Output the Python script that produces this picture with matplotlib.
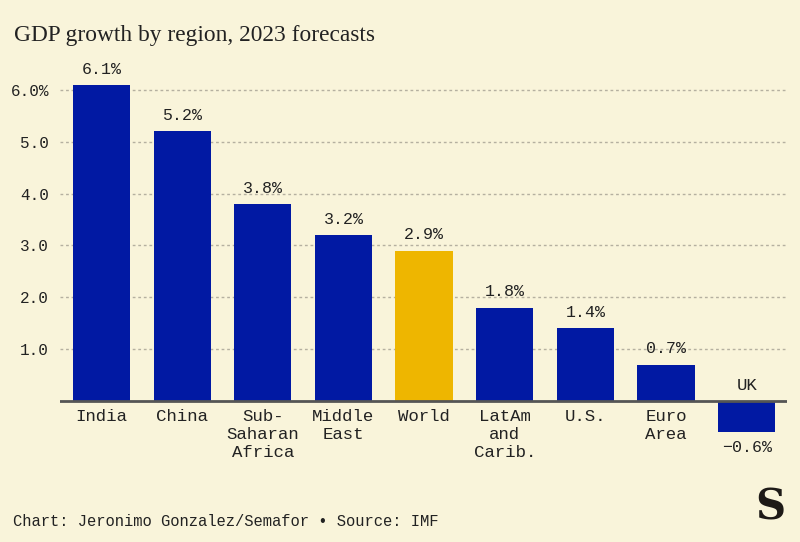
import matplotlib.pyplot as plt
import numpy as np

# data
regions = ['India', 'China', 'Sub-\nSaharan\nAfrica', 'Middle\nEast', 'World',
           'LatAm\nand\nCarib.', 'U.S.', 'Euro\nArea', 'UK']
growth = [6.1, 5.2, 3.8, 3.2, 2.9, 1.8, 1.4, 0.7, -0.6]
yticks = [1, 2, 3, 4, 5, 6]
ytick_labels = ['1.0', '2.0', '3.0', '4.0', '5.0', '6.0%']

bg = '#f9f4da'
blue = '#0119a3'
yellow = '#eeb600'
mono = 'Liberation Mono'

fig = plt.figure(figsize=(8, 5.42), dpi=100, facecolor=bg)
ax = fig.add_axes([0.075, 0.1646, 0.90875, 0.7171])
ax.set_facecolor(bg)

x = np.arange(len(regions))
colors = [yellow if r == 'World' else blue for r in regions]
ax.bar(x, growth, width=0.71, color=colors, zorder=3)

ax.set_xlim(-0.515, 8.5)
ax.set_ylim(-1, 6.5)

# dotted gridlines and the zero line
for t in yticks:
    ax.axhline(t, color='#b5b0a0', lw=1, ls=(0, (2, 2)), zorder=1)
ax.axhline(0, color='#555555', lw=2, zorder=4)

ax.set_yticks(yticks)
ax.set_yticklabels(ytick_labels, fontfamily=mono, fontsize=11.5, color='#222222')
ax.tick_params(axis='y', length=0, pad=8)
ax.set_xticks([])
for s in ax.spines.values():
    s.set_visible(False)

# value labels and category labels
for xi, v, name in zip(x, growth, regions):
    if v >= 0:
        ax.annotate(f'{v:.1f}%', (xi, v), xytext=(0, 6), textcoords='offset points',
                    ha='center', va='bottom', fontfamily=mono, fontsize=12, color='#222222')
        ax.annotate(name, (xi, 0), xytext=(0, -6), textcoords='offset points',
                    ha='center', va='top', fontfamily=mono, fontsize=12.5,
                    color='#222222', linespacing=1.25)
    else:
        ax.annotate(f'{v:.1f}%'.replace('-', '\u2212'), (xi, v), xytext=(0, -6),
                    textcoords='offset points', ha='center', va='top',
                    fontfamily=mono, fontsize=12, color='#222222')
        ax.annotate(name, (xi, 0), xytext=(0, 6), textcoords='offset points',
                    ha='center', va='bottom', fontfamily=mono, fontsize=12.5, color='#222222')

fig.text(0.0175, 0.935, 'GDP growth by region, 2023 forecasts', fontfamily='Liberation Serif',
         fontsize=16.8, color='#222222', ha='left', va='center')
fig.text(0.016, 0.038, 'Chart: Jeronimo Gonzalez/Semafor \u2022 Source: IMF', fontfamily=mono,
         fontsize=11.2, color='#222222', ha='left', va='center')
fig.text(0.963, 0.063, 'S', fontfamily='DejaVu Serif', fontweight='bold', fontsize=30,
         color='#1e1a17', ha='center', va='center')

fig.savefig('out.png', dpi=100, facecolor=bg)
